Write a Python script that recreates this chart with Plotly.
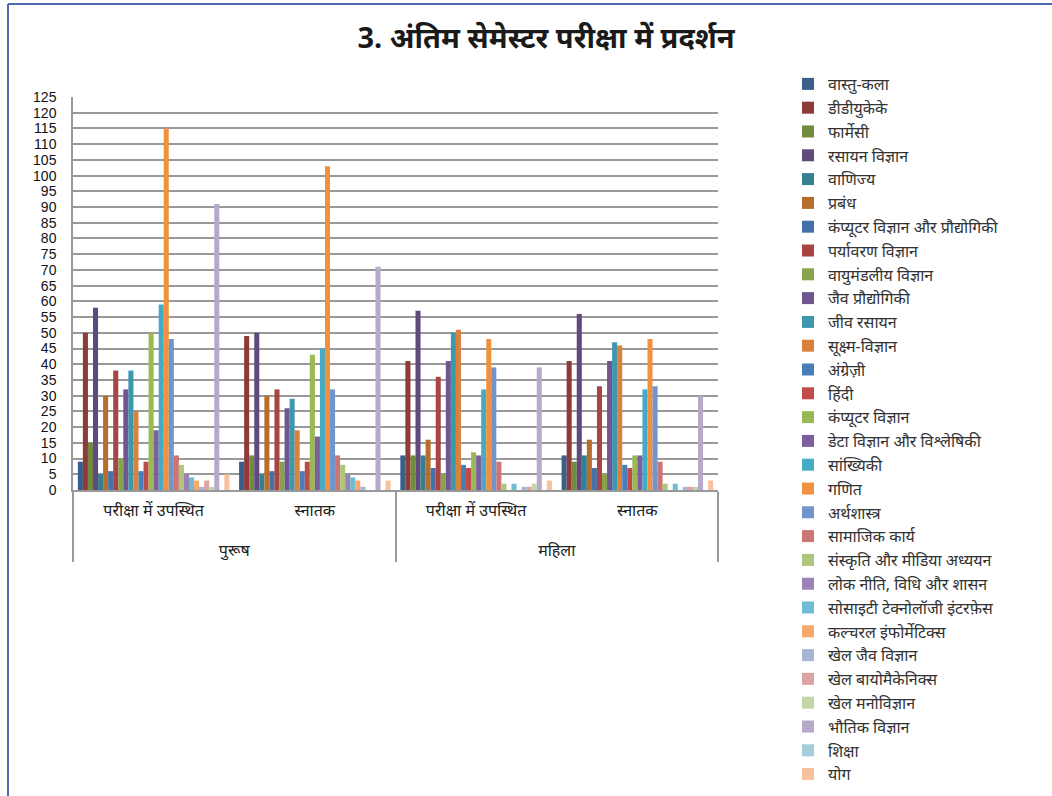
import plotly.graph_objects as go

gender = ["पुरूष", "पुरूष", "महिला", "महिला"]
stage = ["परीक्षा में उपस्थित", "स्नातक", "परीक्षा में उपस्थित", "स्नातक"]

subjects = [
    "वास्तु-कला", "डीडीयुकेके", "फार्मेसी", "रसायन विज्ञान", "वाणिज्य", "प्रबंध",
    "कंप्यूटर विज्ञान और प्रौद्योगिकी", "पर्यावरण विज्ञान", "वायुमंडलीय विज्ञान",
    "जैव प्रौद्योगिकी", "जीव रसायन", "सूक्ष्म-विज्ञान", "अंग्रेज़ी", "हिंदी",
    "कंप्यूटर विज्ञान", "डेटा विज्ञान और विश्लेषिकी", "सांख्यिकी", "गणित",
    "अर्थशास्त्र", "सामाजिक कार्य", "संस्कृति और मीडिया अध्ययन",
    "लोक नीति, विधि और शासन", "सोसाइटी टेक्नोलॉजी इंटरफ़ेस", "कल्चरल इंफोर्मेटिक्स",
    "खेल जैव विज्ञान", "खेल बायोमैकेनिक्स", "खेल मनोविज्ञान", "भौतिक विज्ञान",
    "शिक्षा", "योग",
]

# values per subject: [male appeared, male passed, female appeared, female passed]
values = [
    [9, 9, 11, 11], [50, 49, 41, 41], [15, 11, 11, 9], [58, 50, 57, 56],
    [5, 5, 11, 11], [30, 30, 16, 16], [6, 6, 7, 7], [38, 32, 36, 33],
    [10, 9, 5, 5], [32, 26, 41, 41], [38, 29, 50, 47], [25, 19, 51, 46],
    [6, 6, 8, 8], [9, 9, 7, 7], [50, 43, 12, 11], [19, 17, 11, 11],
    [59, 45, 32, 32], [115, 103, 48, 48], [48, 32, 39, 33], [11, 11, 9, 9],
    [8, 8, 2, 2], [5, 5, 0, 0], [4, 4, 2, 2], [3, 3, 0, 0],
    [1, 1, 1, 1], [3, 0, 1, 1], [1, 0, 2, 1], [91, 71, 39, 30],
    [0, 0, 0, 0], [5, 3, 3, 3],
]

colors = [
    "#3A5F8B", "#8E3A38", "#728B3E", "#5E4A7C", "#347F92", "#B76E2D",
    "#4570A8", "#A84442", "#87A34B", "#6F5690", "#3F97AD", "#D9823B",
    "#4A7EBB", "#BE4B48", "#98B954", "#7D5FA0", "#46AAC5", "#F0913F",
    "#7394CB", "#CB7574", "#AEC67C", "#9982B4", "#6FBCD3", "#F7A86D",
    "#A5B6D6", "#D9A4A3", "#C4D6A8", "#B6A9C9", "#A5CEDC", "#F9C09E",
]

# blank second line pushes the gender row further down, as in the original
stage_labels = [s + "<br> " for s in stage]

fig = go.Figure()
for i, name in enumerate(subjects):
    fig.add_trace(go.Bar(
        x=[gender, stage_labels], y=values[i], name=name,
        marker=dict(color=colors[i], line=dict(width=0)),
        legendgroup=str(i),
    ))

L, T, W, H = 73, 97, 645, 393
fig.update_layout(
    width=1052, height=796,
    margin=dict(l=L, r=1052 - L - W, t=T, b=796 - T - H, autoexpand=False),
    paper_bgcolor="white", plot_bgcolor="white",
    font=dict(family="Noto Sans, DejaVu Sans, sans-serif", color="#222"),
    title=dict(text="<b>3. अंतिम सेमेस्टर परीक्षा में प्रदर्शन</b>",
               x=546 / 1052, xanchor="center", y=1 - 38 / 796, yanchor="middle",
               font=dict(size=29, color="#1a1a1a")),
    barmode="group", bargap=0.06, bargroupgap=0,
    showlegend=True,
    legend=dict(xref="container", yref="container",
                x=788 / 1052, y=1 - 67 / 796, xanchor="left", yanchor="top",
                font=dict(size=16, color="#333"), tracegroupgap=0,
                traceorder="grouped", itemwidth=30, maxheight=1),
)
fig.update_yaxes(range=[0, 125], dtick=5, showgrid=True, gridcolor="#999",
                 gridwidth=1.5, showline=True, linecolor="#999", linewidth=1.5,
                 tickfont=dict(family="Liberation Sans, Arial", size=14, color="#111"),
                 ticks="", ticklabelstandoff=12, automargin=False, fixedrange=True)
fig.update_xaxes(showline=True, linecolor="#999", linewidth=1.5,
                 showdividers=True, dividercolor="#999", dividerwidth=1.5,
                 tickfont=dict(size=16, color="#222"), ticks="",
                 ticklabelstandoff=5, automargin=False)

# outer chart frame (left and top edges visible)
top = 1 + (T - 4) / H
left = (8 - L) / W
fig.add_shape(type="line", xref="paper", yref="paper",
              x0=left, x1=(1060 - L) / W, y0=top, y1=top,
              line=dict(color="#4F6AB5", width=2), layer="below")
fig.add_shape(type="line", xref="paper", yref="paper",
              x0=left, x1=left, y0=-1, y1=top,
              line=dict(color="#4F6AB5", width=2), layer="below")

fig.write_html("out.html", config={"displayModeBar": False},
               post_script="document.body.style.margin='0';")
